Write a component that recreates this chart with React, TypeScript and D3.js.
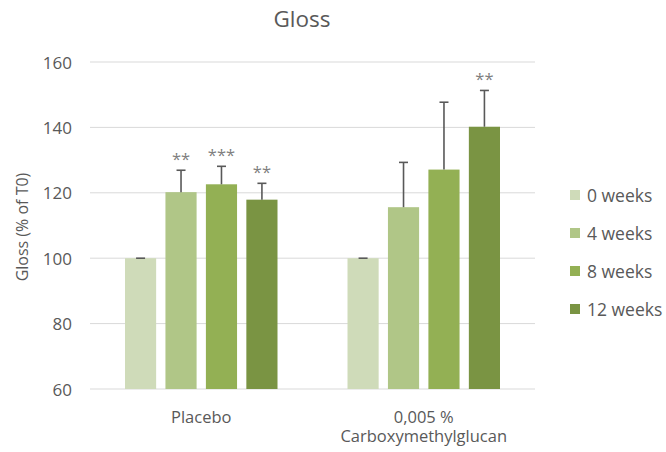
import React from 'react';
import * as d3 from 'd3';

const groups = ['Placebo', '0,005 %\nCarboxymethylglucan'];
const series = ['0 weeks', '4 weeks', '8 weeks', '12 weeks'];
const colors = ['#cfdbb9', '#b0c687', '#93b054', '#7a9443'];
// values[group][series]
const values = [
  [100, 120.2, 122.6, 117.9],
  [100, 115.6, 127.1, 140.2],
];
const errors = [
  [0, 6.7, 5.5, 5.0],
  [0, 13.7, 20.6, 11.1],
];
const stars = [
  ['', '**', '***', '**'],
  ['', '', '', '**'],
];
const yTicks = [60, 80, 100, 120, 140, 160];

const W = 666;
const H = 452;
const font = '"Open Sans", "Noto Sans", sans-serif';
const textColor = '#595959';

export default function App() {
  const left = 90;
  const right = 535;
  const top = 62;
  const bottom = 389;

  const y = d3.scaleLinear().domain([60, 160]).range([bottom, top]);
  const x0 = d3.scaleBand().domain(groups).range([left, right]).paddingInner(0).paddingOuter(0);
  const x1 = d3.scaleBand().domain(series).range([35, x0.bandwidth() - 35]).paddingInner(0.23);

  return (
    <svg width={W} height={H} style={{ position: 'absolute', left: 0, top: 0 }}>
      <rect width={W} height={H} fill="#fff" />
      <text x={302} y={27} textAnchor="middle" fontFamily={font} fontSize={22.5} fill={textColor}>Gloss</text>

      {yTicks.map(t => (
        <g key={t}>
          <line x1={left} x2={right} y1={y(t)} y2={y(t)} stroke="#d9d9d9" strokeWidth={1} />
          <text x={72} y={y(t) + 6.5} textAnchor="end" fontFamily={font} fontSize={17} fill={textColor}>{t}</text>
        </g>
      ))}

      <text transform={`translate(28, 227) rotate(-90)`} textAnchor="middle" fontFamily={font} fontSize={16} fill={textColor}>Gloss (% of T0)</text>

      {groups.map((g, gi) => (
        <g key={g} transform={`translate(${x0(g)},0)`}>
          {series.map((s, si) => {
            const v = values[gi][si];
            const e = errors[gi][si];
            const bx = x1(s)!;
            const cx = bx + x1.bandwidth() / 2;
            return (
              <g key={s}>
                <rect x={bx} y={y(v)} width={x1.bandwidth()} height={y(60) - y(v)} fill={colors[si]} />
                <line x1={cx} x2={cx} y1={y(v)} y2={y(v + e)} stroke="#595959" strokeWidth={1.6} />
                <line x1={cx - 4.5} x2={cx + 4.5} y1={y(v + e)} y2={y(v + e)} stroke="#595959" strokeWidth={1.6} />
                {stars[gi][si] && (
                  <text x={cx} y={y(v + e) - 5} textAnchor="middle" fontFamily={font} fontSize={16.5} fill="#808080">{stars[gi][si]}</text>
                )}
              </g>
            );
          })}
          {g.split('\n').map((line, li) => (
            <text key={li} x={x0.bandwidth() / 2} y={422.5 + li * 19} textAnchor="middle" fontFamily={font} fontSize={16.5} fill={textColor}>{line}</text>
          ))}
        </g>
      ))}

      {series.map((s, si) => (
        <g key={s} transform={`translate(570, ${195 + si * 38})`}>
          <rect x={0} y={-5} width={10} height={10} fill={colors[si]} />
          <text x={17} y={6.5} fontFamily={font} fontSize={17.5} fill={textColor}>{s}</text>
        </g>
      ))}
    </svg>
  );
}
